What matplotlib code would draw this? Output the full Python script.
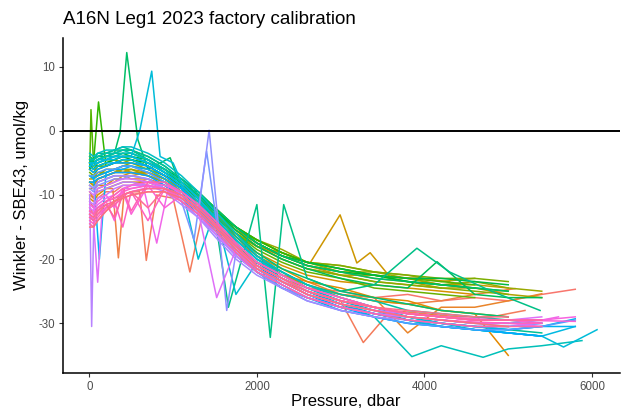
import numpy as np
import matplotlib
matplotlib.use("Agg")
import matplotlib.pyplot as plt

plt.rcParams["font.family"] = ["Liberation Sans", "DejaVu Sans"]
plt.rcParams["axes.unicode_minus"] = False

TITLE = "A16N Leg1 2023 factory calibration"
X_LABEL = "Pressure, dbar"
Y_LABEL = "Winkler - SBE43, umol/kg"
X_TICKS = [0, 2000, 4000, 6000]
Y_TICKS = [-30, -20, -10, 0, 10]

# standard bottle pressures (dbar) shared by most casts
P_GRID = [5, 50, 100, 200, 300, 400, 500, 700, 900, 1100, 1300, 1500,
          1750, 2000, 2300, 2600, 3000, 3400, 3800, 4200, 4600, 5000, 5400, 5800]

# Winkler minus SBE43 oxygen per cast (umol/kg), casts in station order
stn01 = [-11, -12, -10.5, -9.5, -9.5, -8.5, -8.5, -7.5, -8.5, -10, -12.5, -14,
         -17.5, -20.5, -22, -24.5, -25, -26, -25.5, -26.5, -26, -26.5, -25.5, -24.7]
p_stn02 = [5, 50, 100, 200, 300, 400, 500, 600, 680, 800, 1000, 1200, 1350,
           1500, 1750, 2000, 2300, 2600, 3000, 3270, 3600, 4000, 4400, 4800, 5200]
stn02 = [-12, -13, -12, -11, -10.5, -10, -9.5, -9.5, -20.2, -10, -10.5, -22, -13,
         -15, -18, -21, -23.5, -25, -26.5, -33, -28, -28.5, -29, -29, -28]
p_stn03 = [5, 50, 100, 200, 280, 347, 420, 500, 700, 900, 1100, 1300, 1500,
           1750, 2000, 2300, 2600, 3000, 3400, 3800, 4200, 4600, 5080]
stn03 = [-10, -10.5, -9.5, -9, -9, -19.8, -9, -8.5, -8, -8.5, -10, -12, -14.5,
         -17.5, -20.5, -23, -24.5, -25.5, -26.5, -27, -26.5, -25.5, -24.6]
stn04 = [-9.5, -10.5, -9, -8.5, -8, -7, -7.5, -7.5, -8.5, -9.5, -11, -14.5,
         -17, -19.5, -22.5, -23.5, -25.5, -26, -31.5, -27.5, -27.5, -26.5, -25.4]
stn05 = [-9, -9, -8.5, -8.5, -7.5, -7.5, -7, -6.5, -7.5, -9.5, -11, -13,
         -16.5, -19.5, -21.5, -23.5, -24.5, -26, -26.5, -28, -28.5, -35]
stn06 = [-10.5, -11, -10, -9, -8.5, -8, -8, -8, -9, -10.5, -12, -15,
         -18, -20.5, -22.5, -24, -25.5, -26.5, -27, -28, -28.5, -29]
stn07 = [-8.5, -9, -8, -7.5, -7, -7, -6.5, -7, -8, -9.5, -11.5, -14,
         -16.5, -19, -21, -22.5, -23.5, -24, -24.5, -25, -25.5]
p_stn08 = [5, 50, 100, 200, 300, 400, 500, 700, 900, 1100, 1300, 1500, 1750,
           2000, 2300, 2635, 2993, 3193, 3352, 3590, 3900, 4300]
stn08 = [-8, -8.5, -7.5, -7, -6.5, -6.5, -6.5, -7, -8, -9.5, -11.5, -13.5, -16,
         -18, -19.5, -20.6, -13.1, -20.6, -19, -22.8, -23, -23.5]
stn09 = [-8, -8.5, -7.5, -7, -6.5, -6, -6.5, -6.5, -7.5, -9, -11.5, -13,
         -15, -17.5, -19.5, -21, -22.5, -22.5, -23, -24, -24, -24.5]
stn10 = [-7.5, -7.5, -7, -6.5, -6, -6.5, -6, -6.5, -7.5, -9.5, -11, -12.5,
         -15.5, -18, -19, -20.5, -21, -22, -22.5, -23.5, -23]
stn11 = [-7, -7.5, -6.5, -6.5, -6, -5.5, -5.5, -6, -7.5, -9, -10.5, -13,
         -15.5, -17.5, -19.5, -21, -22, -23, -23.5, -24.5, -24.5, -25.5, -26]
stn12 = [-8, -8, -7.5, -7, -6.5, -6, -6, -7, -8, -9.5, -11.5, -13.5,
         -16, -18, -20, -21.5, -22.5, -23.5, -24, -24.5]
stn13 = [-7, -7, -7, -6, -6, -5.5, -5, -6, -7, -8.5, -10, -12.5,
         -15.5, -17, -18.5, -20.5, -22, -22, -23, -24, -23.5, -24.5, -25]
stn14 = [-6, -6.5, -5.5, -5, -4.5, -5, -4.5, -5.5, -7, -8.5, -10.5, -13,
         -16, -18, -20, -21.5, -22.5, -23.5, -24, -24.5, -25, -25.5]
stn15 = [-5, -6, -5, -4.5, -4.5, -4, -4, -5, -6, -8, -10, -12,
         -15, -17, -19, -20.5, -21, -22, -22.5, -23, -23, -23.5]
stn16 = [-6.5, -7, -6, -5.5, -5, -5, -5, -5.5, -7, -9, -11, -13.5,
         -16, -18.5, -20.5, -22, -23, -24.5, -25, -25.5, -26]
p_stn17 = [5, 20, 50, 100, 200, 300, 400, 500, 700, 900, 1100, 1300, 1500,
           1750, 2000, 2300, 2600, 3000, 3400, 3800, 4200, 4600]
stn17 = [-6, 3.3, -5, -5.5, -5.5, -5, -4.5, -4.5, -5.5, -7, -8.5, -10.5, -12.5,
         -15, -17, -19, -20.5, -21.5, -22.5, -23, -23.5, -24]
p_stn18 = [5, 50, 110, 200, 300, 400, 500, 700, 900, 1100, 1300, 1500, 1750,
           2000, 2300, 2600, 3000, 3400, 3800, 4200, 4600, 5000]
stn18 = [-6, -5, 4.5, -5.5, -5, -4.5, -4.5, -5.5, -7, -8.5, -10.5, -12.5, -15,
         -17, -19, -20.5, -21.5, -22.5, -23.5, -24, -24.5, -25]
stn19 = [-5.5, -6, -5.5, -5, -4.5, -4, -4.5, -5, -6.5, -8, -10, -12.5,
         -15, -17.5, -19.5, -21, -22, -22.5, -23.5, -24, -24.5]
stn20 = [-4.5, -5, -4.5, -4, -4, -3.5, -4, -4.5, -6, -7.5, -9.5, -12,
         -15, -17.5, -19.5, -20.5, -21.5, -22.5, -23, -23, -23.5, -24]
p_stn21 = [5, 50, 100, 200, 300, 400, 500, 700, 900, 1100, 1300, 1500, 1750,
           2000, 2300, 2600, 3000, 3400, 3800, 4150, 4600, 5000, 5400]
stn21 = [-5, -5.5, -5, -4.5, -4, -4, -4, -5, -6.5, -8, -10, -12.5, -15.5,
         -18, -20, -21.5, -23, -24, -24.5, -20.4, -25.5, -26, -26]
p_stn22 = [5, 50, 100, 200, 300, 367, 447, 580, 700, 965, 1100, 1300, 1500,
           1750, 2000, 2300, 2600, 3000, 3400, 3800, 4200, 4600, 5000]
stn22 = [-5, -4.5, -4, -4, -3.5, -0.3, 12.2, -1.4, -6, -4.2, -9, -9.5, -12,
         -15, -17.5, -19.5, -21, -22, -23, -23.5, -24, -24.5, -25]
stn23 = [-4, -4.5, -4, -3.5, -3, -3, -3, -4, -5.5, -7.5, -9.5, -12.5,
         -16, -19, -21.5, -23, -25, -26, -27, -28, -28.5, -29]
p_stn24 = [5, 50, 100, 200, 300, 400, 500, 700, 900, 1100, 1300, 1500, 1660,
           2000, 2160, 2320, 2600, 3000, 3400, 3910, 4300, 4800, 5380]
stn24 = [-4.5, -5, -4.5, -4, -3.5, -3, -3, -4.5, -6, -8, -10.5, -13.5, -27.5,
         -11.5, -32.2, -11.5, -23, -25, -24, -18.3, -22, -25, -28]
stn25 = [-4, -4.5, -3.5, -3.5, -3, -2.5, -3, -4, -5.5, -7.5, -10, -13,
         -16.5, -19.5, -22, -24, -26, -27.5, -29, -30, -30.5, -31, -31.5]
stn26 = [-5, -5, -4.5, -4, -3.5, -3.5, -3.5, -4.5, -6, -8, -10.5, -13.5,
         -17, -20, -22, -24, -25.5, -26.5, -28, -28.5, -29, -29.5, -30]
stn27 = [-4.5, -4.5, -4, -3.5, -3.5, -3, -3.5, -4.5, -6, -8, -10.5, -13.5,
         -17, -20, -22.5, -24.5, -26.5, -28, -29.5, -30.5, -31, -31.5, -32]
p_stn28 = [5, 50, 100, 200, 300, 400, 500, 700, 900, 1100, 1300, 1500, 1750,
           2000, 2300, 2600, 3000, 3400, 3850, 4200, 4700, 5000, 5400, 5880]
stn28 = [-5, -5, -4.5, -4, -4, -3.5, -3.5, -4.5, -6.5, -8.5, -11, -14, -17.5,
         -20.5, -23, -25, -27, -29, -35.2, -33.5, -35.3, -34, -33.5, -32.7]
stn29 = [-3.5, -4, -3.5, -3, -3, -2.5, -2.5, -3.5, -5, -7, -9.5, -12.5,
         -16, -19.5, -22, -24, -26, -27.5, -29, -30, -30.5, -31]
stn30 = [-5, -5, -4.5, -4.5, -4, -4, -4, -5, -6.5, -8.5, -20, -12.5,
         -25.5, -20.5, -23, -25, -27, -28.5, -29.5, -30.5, -31, -31.5, -32]
p_stn31 = [5, 50, 100, 200, 300, 400, 500, 605, 745, 845, 1000, 1100, 1300, 1500,
           1750, 2000, 2300, 2600, 3000, 3400, 3800, 4200, 4600, 5000, 5400,
           5660, 6060]
stn31 = [-5.5, -5, -5, -4.5, -4.5, -4, -4, 0.2, 9.3, -4, -5, -8, -10.5, -13.5,
         -17, -20, -22.5, -24.5, -26.5, -28, -29, -30, -31, -31.5, -32, -33.7, -31]
stn32 = [-5, -5.5, -5, -4.5, -4, -4, -4, -5, -6.5, -8.5, -11, -14,
         -17.5, -20.5, -23, -25, -27, -28.5, -29.5, -30.5, -31, -31.5, -32, -30.5]
stn33 = [-5.5, -6, -5.5, -5, -5, -4.5, -4.5, -5.5, -7, -9, -11.5, -14.5,
         -18, -21, -23.5, -25.5, -27.5, -28.5, -29.5, -30, -30.5, -31, -30.5, -29.3]
p_stn34 = [5, 50, 120, 200, 300, 400, 500, 700, 900, 1100, 1300, 1500, 1750,
           2000, 2300, 2600, 3000, 3400, 3800, 4200, 4600, 5000, 5400, 5800]
stn34 = [-7, -7, -20, -6.5, -6, -5.5, -5.5, -6, -7.5, -9.5, -12, -15, -18.5,
         -21.5, -24, -26, -28, -29, -30, -30.5, -31, -31, -30.5, -30.5]
stn35 = [-7, -7.5, -7, -6.5, -6, -6, -5.5, -6.5, -8, -10, -12.5, -15.5,
         -19, -22, -24.5, -26, -27.5, -28.5, -29.5, -30, -30.5, -30.5, -30]
stn36 = [-6, -6.5, -6, -5.5, -5, -5, -5, -5.5, -7, -9, -11.5, -14.5,
         -18, -21, -23.5, -25.5, -27.5, -29, -30, -30.5, -31, -31.5, -32]
stn37 = [-8, -8, -7.5, -7, -6.5, -6.5, -6.5, -7, -8.5, -10.5, -13, -16,
         -19.5, -22, -24.5, -26, -27.5, -28.5, -29, -29.5, -30, -30]
stn38 = [-7, -7, -6.5, -6, -6, -5.5, -5.5, -6.5, -8, -10, -12.5, -15.5,
         -19, -22, -24.5, -26.5, -28, -29, -30, -30.5, -31, -31, -30.5, -29.5]
p_stn39 = [5, 50, 100, 200, 300, 400, 500, 700, 900, 1100, 1250, 1400, 1550,
           1750, 2000, 2300, 2600, 3000, 3400, 3800, 4200, 4600, 5000, 5400]
stn39 = [-8.5, -9, -8, -7.5, -7, -7, -7, -7.5, -9, -11, -17, -3.2, -17,
         -18.5, -22, -24.5, -26, -27.5, -28.5, -29, -29.5, -30, -30, -29.5]
p_stn40 = [5, 50, 100, 200, 300, 400, 500, 700, 900, 1100, 1300, 1430, 1640,
           1750, 2000, 2300, 2600, 3000, 3400, 3800, 4200, 4600, 5000]
stn40 = [-9, -9.5, -8.5, -8, -7.5, -7.5, -7, -7.5, -9, -11, -13, 0.1, -28,
         -19, -21.5, -24, -26, -27.5, -28.5, -29, -29.5, -30, -30.5]
stn41 = [-8.5, -9, -8, -7.5, -7, -7, -7, -7.5, -9, -11, -13.5, -16.5,
         -20, -22.5, -24.5, -26.5, -28, -29, -29.5, -30, -30.5, -30.5, -30]
p_stn42 = [5, 28, 60, 100, 200, 300, 400, 500, 700, 900, 1100, 1300, 1500,
           1750, 2000, 2300, 2600, 3000, 3400, 3800, 4200, 4600, 5000, 5400]
stn42 = [-10, -30.5, -10, -9.5, -9, -8.5, -8, -8, -8.5, -9.5, -11.5, -13.5, -16,
         -19, -21.5, -23.5, -25.5, -27, -28, -28.5, -29, -29.5, -29.5, -29.5]
stn43 = [-11, -11.5, -10.5, -10, -9, -8.5, -8.5, -8.5, -9, -10.5, -12.5, -15,
         -18.5, -21.5, -23.5, -25.5, -27, -28, -28.5, -29, -29.5, -29.5, -29.5]
stn44 = [-9.5, -10, -9, -8.5, -8, -7.5, -7.5, -8, -9, -11, -13, -16,
         -19.5, -22, -24, -26, -27.5, -28.5, -29, -29.5, -30, -30]
p_stn45 = [5, 50, 100, 150, 200, 300, 400, 500, 700, 900, 1100, 1300, 1520,
           1750, 2000, 2300, 2600, 3000, 3400, 3800, 4200, 4600, 5000, 5400]
stn45 = [-13, -14, -23.6, -13, -12, -11, -10, -9.5, -9, -9, -10.5, -12.5, -26,
         -18.5, -21, -23, -25, -26.5, -27.5, -28.5, -29, -29.5, -29.5, -29]
stn46 = [-12, -12.5, -11.5, -10.5, -10, -9, -9, -8.5, -9, -10.5, -12.5, -15,
         -18.5, -21.5, -23.5, -25.5, -27, -28, -29, -29.5, -30, -30, -30.5]
p_stn47 = [5, 50, 100, 200, 300, 400, 500, 650, 805, 950, 1100, 1300, 1500,
           1750, 2000, 2300, 2600, 3000, 3400, 3800, 4200, 4600, 5000, 5400, 5600]
stn47 = [-13.5, -14, -13, -12, -11, -10, -9.5, -9, -17.5, -8.5, -10, -12, -14.5,
         -18, -21, -23, -25, -26.5, -27.5, -28.5, -29, -29.5, -29.5, -29.5, -29]
stn48 = [-11.5, -12, -11, -10, -12, -9, -8.5, -8, -8.5, -9.5, -11.5, -14,
         -17.5, -20.5, -22.5, -24.5, -26, -27.5, -28.5, -29, -29.5, -29.5, -29.5, -29]
stn49 = [-13, -13.5, -12.5, -11, -14, -9.5, -13, -8.5, -12, -10, -12, -14.5,
         -18, -21, -23, -25, -26.5, -27.5, -28.5, -29, -29.3, -29.5, -29.6, -29.7]
stn50 = [-12.5, -13, -12, -11, -10.5, -9.5, -9, -8.5, -9, -10, -12, -14.5,
         -18, -21, -23, -25, -26.5, -27.5, -28.5, -29, -29.5, -29.5, -30]
stn51 = [-14, -14.5, -13.5, -12, -11, -15, -9.5, -14, -9, -10.5, -12.5, -15,
         -18.5, -21.5, -23.5, -25.5, -27, -28, -29, -29.5, -29.8, -30, -30]
stn52 = [-12.5, -13, -12, -11, -10, -9, -12.5, -8, -8, -9.5, -11.5, -14,
         -17.5, -20.5, -22.5, -24.5, -26, -27.5, -28.5, -29, -29.5, -29.5]
stn53 = [-14.5, -15, -14, -12.5, -11.5, -10.5, -10, -9.5, -9.5, -11, -13, -15.5,
         -19, -22, -24, -26, -27.5, -28.5, -29.5, -30, -30.5, -30.5, -30.5]
stn54 = [-13.5, -14, -13, -11.5, -13.5, -10, -9.5, -12, -9, -10, -12, -14.5,
         -18, -21, -23, -25, -26.5, -27.5, -28.5, -29, -29.5, -29.5, -29.5]
stn55 = [-13, -13.5, -12.5, -11.5, -11, -10, -9.5, -9, -9, -10, -12, -14.5,
         -18, -21, -23, -25, -26.5, -27.5, -28, -28.5, -29, -29]
stn56 = [-15, -15, -14, -12.5, -11, -10.5, -10, -9.5, -9.5, -10.5, -12.5, -15,
         -18.5, -21.5, -23.5, -25.5, -27, -28, -29, -29.5, -30, -30.5]

casts = [
    (None, stn01), (p_stn02, stn02), (p_stn03, stn03), (None, stn04),
    (None, stn05), (None, stn06), (None, stn07), (p_stn08, stn08),
    (None, stn09), (None, stn10), (None, stn11), (None, stn12),
    (None, stn13), (None, stn14), (None, stn15), (None, stn16),
    (p_stn17, stn17), (p_stn18, stn18), (None, stn19), (None, stn20),
    (p_stn21, stn21), (p_stn22, stn22), (None, stn23), (p_stn24, stn24),
    (None, stn25), (None, stn26), (None, stn27), (p_stn28, stn28),
    (None, stn29), (None, stn30), (p_stn31, stn31), (None, stn32),
    (None, stn33), (p_stn34, stn34), (None, stn35), (None, stn36),
    (None, stn37), (None, stn38), (p_stn39, stn39), (p_stn40, stn40),
    (None, stn41), (p_stn42, stn42), (None, stn43), (None, stn44),
    (p_stn45, stn45), (None, stn46), (p_stn47, stn47), (None, stn48),
    (None, stn49), (None, stn50), (None, stn51), (None, stn52),
    (None, stn53), (None, stn54), (None, stn55), (None, stn56),
]


def hcl_to_rgb(h, c=100.0, l=65.0):
    """Polar LUV (HCL) to sRGB, D65 white, like R's hcl()."""
    un, vn = 0.1978398, 0.4683363
    hr = np.deg2rad(h)
    U, V = c * np.cos(hr), c * np.sin(hr)
    Y = ((l + 16) / 116) ** 3 if l > 8 else l / 903.3
    u = U / (13 * l) + un
    v = V / (13 * l) + vn
    X = 9.0 * Y * u / (4 * v)
    Z = -X / 3 - 5 * Y + 3 * Y / v
    m = np.array([[3.240479, -1.537150, -0.498535],
                  [-0.969256, 1.875992, 0.041556],
                  [0.055648, -0.204043, 1.057311]])
    lin = m @ np.array([X, Y, Z])
    out = np.where(lin > 0.00304, 1.055 * np.clip(lin, 0, None) ** (1 / 2.4) - 0.055,
                   12.92 * lin)
    return tuple(np.clip(out, 0, 1))


n = len(casts)
colors = [hcl_to_rgb(15 + 360 * i / n) for i in range(n)]

W, H = 622, 412
fig = plt.figure(figsize=(W / 100, H / 100), dpi=100)
ax = fig.add_axes([63 / W, (H - 373) / H, (620 - 63) / W, (373 - 38) / H])

for (p, vals), col in zip(casts, colors):
    pres = P_GRID[:len(vals)] if p is None else p
    ax.plot(pres, vals, color=col, lw=1.1, solid_joinstyle="round")

ax.axhline(0, color="black", lw=1.4, zorder=5)

ax.set_xlim(-314, 6334)
ax.set_ylim(-37.75, 14.47)
ax.set_xticks(X_TICKS)
ax.set_xticklabels([str(t) for t in X_TICKS])
ax.set_yticks(Y_TICKS)
ax.set_yticklabels([str(t) for t in Y_TICKS])

for side in ("top", "right"):
    ax.spines[side].set_visible(False)
for side in ("left", "bottom"):
    ax.spines[side].set_linewidth(1.1)
    ax.spines[side].set_color("black")
ax.tick_params(axis="both", length=3, width=0.8, color="#333333",
               labelsize=8.3, labelcolor="#4D4D4D", pad=2.5)

ax.set_xlabel(X_LABEL, fontsize=12)
ax.set_ylabel(Y_LABEL, fontsize=12)
ax.xaxis.set_label_coords((346 - 63) / (620 - 63), -(401 - 373) / (373 - 38))
ax.yaxis.set_label_coords(-(63 - 22) / (620 - 63), (373 - 195) / (373 - 38))
ax.xaxis.label.set_va("center")
ax.yaxis.label.set_va("center")
fig.text(63 / W, 1 - 24 / H, TITLE, fontsize=13.5, ha="left", va="baseline")

fig.savefig("out.png", dpi=100, facecolor="white")
